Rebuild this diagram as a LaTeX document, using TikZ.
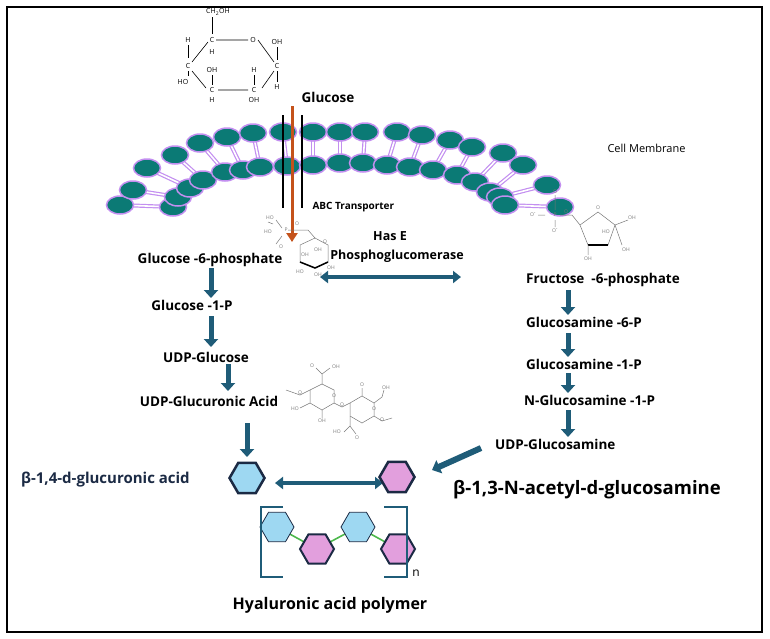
\documentclass[tikz,border=0pt]{standalone}
\usepackage{fontspec}
\setmainfont{Open Sans}
\usetikzlibrary{arrows.meta,shapes.geometric}
\definecolor{teal1}{HTML}{0B7A75}
\definecolor{lil}{HTML}{C38FF0}
\definecolor{arr}{HTML}{1F5C78}
\definecolor{hexb}{HTML}{1B2A44}
\definecolor{hblue}{HTML}{9ED8F2}
\definecolor{hpink}{HTML}{E29FDD}
\definecolor{orng}{HTML}{C4521B}
\definecolor{chem}{HTML}{777777}
\begin{document}
\begin{tikzpicture}[x=1pt,y=-1pt,
 lbl/.style={font=\bfseries\fontsize{13.5}{15}\selectfont,inner sep=1pt},
 big/.style={font=\bfseries\fontsize{15}{17}\selectfont, text=hexb,inner sep=1pt},
 blk/.style={-{Triangle[length=8pt,width=14pt]},line width=5pt,arr},
 dbl/.style={{Triangle[length=8pt,width=12pt]}-{Triangle[length=8pt,width=12pt]},line width=4.5pt,arr},
 head/.style={ellipse,draw=lil,line width=1.5pt,fill=teal1,minimum width=27pt,minimum height=18pt,inner sep=0pt},
 hex/.style={regular polygon,regular polygon sides=6,minimum size=#1,inner sep=0pt},
 ch/.style={draw=chem,line width=0.5pt},
 ct/.style={font=\fontsize{5}{6}\selectfont,text=chem,inner sep=0.5pt},
 gt/.style={font=\fontsize{7}{8}\selectfont,inner sep=0.5pt}]
\useasboundingbox (0,0) rectangle (770,638);
\draw[line width=1.2pt] (7,7) rectangle (762,632);

% membrane
\foreach \ax/\ay/\bx/\by [count=\i] in {120/205/173/207,133/190/178/197,147/168/190/188,175/155/203/180,200/143/225/172,227/137/243/170,253/133/260/167,283/132/287/166,313/132/313/165,340/132/340/163,365/132/363/163,397/132/387/165,422/135/410/167,450/140/433/170,472/147/457/175,503/153/475/182,523/165/490/192,547/185/500/197,560/207/505/205}{
 \coordinate (o\i) at (\ax,\ay); \coordinate (n\i) at (\bx,\by);
 \draw[lil,line width=4pt] (o\i)--(n\i);
 \draw[white,line width=1.6pt] (o\i)--(n\i);
}
\foreach \i in {1,...,19}{\node[head] (ho\i) at (o\i) {};}
\foreach \i in {1,...,19}{\node[head] (hn\i) at (n\i) {};}
\node[font=\fontsize{11}{13}\selectfont,anchor=west] (cm) at (604,148) {Cell Membrane};

% transporter
\coordinate (t1a) at (283,115); \coordinate (t1b) at (283,208);
\coordinate (t2a) at (302,115); \coordinate (t2b) at (302,208);
\draw[line width=2.8pt] (t1a)--(t1b); \draw[line width=2.8pt] (t2a)--(t2b);
\node[lbl] (glc) at (328,97) {Glucose};
\coordinate (ga) at (292,106); \coordinate (gb) at (292,242);
\draw[orng,line width=3pt,-{Triangle[length=9pt,width=11pt]}] (ga)--(gb);
\node[font=\bfseries\fontsize{10}{12}\selectfont,anchor=west] (abc) at (309,207) {ABC Transporter};

% labels
\node[lbl] (g6p) at (210,260) {Glucose -6-phosphate};
\node[lbl] (g1p) at (192,305) {Glucose -1-P};
\node[lbl] (udpg) at (206,357) {UDP-Glucose};
\node[lbl] (udpga) at (209,401) {UDP-Glucuronic Acid};
\node[lbl,font=\bfseries\fontsize{12.5}{14}\selectfont] (hase) at (390,236) {Has E};
\node[lbl,font=\bfseries\fontsize{12.5}{14}\selectfont] (pgm) at (397,256) {Phosphoglucomerase};
\node[lbl,anchor=west] (f6p) at (525,280) {Fructose\ \ -6-phosphate};
\node[lbl,anchor=west] (gn6) at (525,322) {Glucosamine -6-P};
\node[lbl,anchor=west] (gn1) at (525,364) {Glucosamine -1-P};
\node[lbl,anchor=west] (ngn) at (523,400) {N-Glucosamine -1-P};
\node[lbl,anchor=west] (udpgn) at (494,444) {UDP-Glucosamine};
\node[big,anchor=west] (bga) at (20,480) {β-1,4-d-glucuronic acid};
\node[big,text=black,anchor=west,font=\bfseries\fontsize{18.5}{20}\selectfont] (bnag) at (452,490) {β-1,3-N-acetyl-d-glucosamine};
\node[font=\bfseries\fontsize{16}{18}\selectfont] (hap) at (330,605) {Hyaluronic acid polymer};
\node[font=\fontsize{12}{14}\selectfont] (nn) at (416,573) {n};

% arrows
\foreach \x/\a/\b in {211/268/298,211/316/347,228/364/391,247/423/457,568/290/315,568/333/357,568/373/393,568/410/437}{
 \coordinate (s) at (\x,\a); \coordinate (e) at (\x,\b);
 \draw[blk] (s)--(e);}
\coordinate (d1) at (320,277); \coordinate (d2) at (461,277);
\draw[dbl] (d1)--(d2);
\coordinate (d3) at (275,483); \coordinate (d4) at (383,483);
\draw[dbl] (d3)--(d4);
\coordinate (d5) at (481,448); \coordinate (d6) at (432,470);
\draw[blk,line width=6pt] (d5)--(d6);

% hexagons
\node[hex=35pt,fill=hblue,draw=hexb,line width=2.5pt] (hb) at (247,478) {};
\node[hex=35pt,fill=hpink,draw=hexb,line width=2.5pt] (hp) at (397,477) {};
\coordinate (p1) at (277,527); \coordinate (p2) at (317,549); \coordinate (p3) at (358,527); \coordinate (p4) at (398,549);
\draw[green!60!black!70,line width=1.6pt] (p1)--(p2)--(p3)--(p4);
\node[hex=34pt,fill=hblue,draw=hexb,line width=0.8pt] (q1) at (p1) {};
\node[hex=34pt,fill=hpink,draw=hexb,line width=2pt] (q2) at (p2) {};
\node[hex=34pt,fill=hblue,draw=hexb,line width=0.8pt] (q3) at (p3) {};
\node[hex=34pt,fill=hpink,draw=hexb,line width=2pt] (q4) at (p4) {};
\draw[arr,line width=1.2pt] (283,507)--(261,507)--(261,577)--(283,577);
\draw[arr,line width=1.2pt] (384,507)--(407,507)--(407,577)--(384,577);

% top glucose structure
\draw[line width=0.6pt] (216,40)--(248,40) (258,40)--(274,62) (274,71)--(262,88) (248,90)--(218,90) (206,88)--(192,71) (192,62)--(208,42);
\node[gt] at (253,40) {O};
\node[gt] at (212,40) {C}; \node[gt] at (218,12) {CH\textsubscript{2}OH}; \draw (212,17)--(212,34);
\node[gt] at (212,52) {H}; \node[gt] at (188,40) {H}; \draw (188,45)--(188,58);
\node[gt] at (188,66) {C}; \node[gt] at (183,82) {HO}; \draw (188,71)--(188,76);
\node[gt] at (277,66) {C}; \node[gt] at (277,42) {OH}; \draw (277,47)--(277,60); \node[gt] at (277,87) {H}; \draw (277,71)--(277,82);
\node[gt] at (212,90) {C}; \node[gt] at (212,70) {OH}; \draw (212,75)--(212,85); \node[gt] at (212,100) {H};
\node[gt] at (254,90) {C}; \node[gt] at (254,70) {H}; \draw (254,75)--(254,85); \node[gt] at (254,100) {OH};

% glucose-6-phosphate
\draw[ch] (300,245)--(315,238)--(328,245)--(328,262)--(315,268)--(300,262)--cycle;
\draw[line width=1.5pt] (300,262)--(315,268)--(328,262);
\draw[ch] (315,238)--(308,230)--(288,230) (276,220)--(282,228) (276,244)--(282,236) (268,222)--(273,224);
\node[ct] at (286,230) {P}; \node[ct] at (270,218) {HO}; \node[ct] at (268,232) {HO}; \node[ct] at (281,247) {O}; \node[ct] at (297,224) {O};
\node[ct] at (318,250) {OH}; \node[ct] at (305,255) {OH}; \node[ct] at (300,272) {HO}; \node[ct] at (318,275) {OH}; \node[ct] at (331,268) {OH}; \node[ct] at (325,242) {O};

% fructose-6-phosphate
\draw[ch] (580,225)--(598,212)--(615,225)--(608,245)--(588,245)--cycle;
\draw[line width=1.5pt] (588,245)--(608,245);
\draw[ch] (580,225)--(572,215)--(560,215) (555,210)--(555,195) (545,215)--(538,215) (555,220)--(555,227);
\draw[ch] (615,225)--(628,220) (615,225)--(622,245) (588,245)--(588,255);
\node[ct] at (555,215) {P}; \node[ct] at (555,192) {O}; \node[ct] at (533,215) {O\textsuperscript{-}}; \node[ct] at (555,231) {O\textsuperscript{-}}; \node[ct] at (566,212) {O};
\node[ct] at (598,208) {O}; \node[ct] at (632,218) {OH}; \node[ct] at (606,232) {HO}; \node[ct] at (588,259) {OH}; \node[ct] at (626,250) {OH};

% disaccharide
\draw[ch] (310,390)--(322,384)--(334,390)--(334,403)--(322,410)--(310,403)--cycle;
\draw[ch] (322,384)--(322,374)--(330,368) (322,374)--(316,368) (310,390)--(300,395)--(286,390)
 (310,403)--(300,408) (322,410)--(322,418) (334,403)--(342,407)--(350,403);
\draw[ch] (350,403)--(362,396)--(374,403)--(374,416)--(362,423)--(350,416)--cycle;
\draw[ch] (362,396)--(362,388) (374,403)--(382,397)--(384,390) (350,416)--(350,426)--(344,432) (350,426)--(356,434) (374,416)--(382,421)--(392,418);
\node[ct] at (336,367) {OH}; \node[ct] at (312,366) {O}; \node[ct] at (300,393) {O}; \node[ct] at (295,409) {HO}; \node[ct] at (322,421) {OH};
\node[ct] at (334,396) {O}; \node[ct] at (342,405) {O}; \node[ct] at (362,385) {O}; \node[ct] at (386,388) {OH}; \node[ct] at (374,409) {O};
\node[ct] at (337,432) {HO}; \node[ct] at (357,438) {O}; \node[ct] at (382,420) {O};
\end{tikzpicture}
\end{document}
